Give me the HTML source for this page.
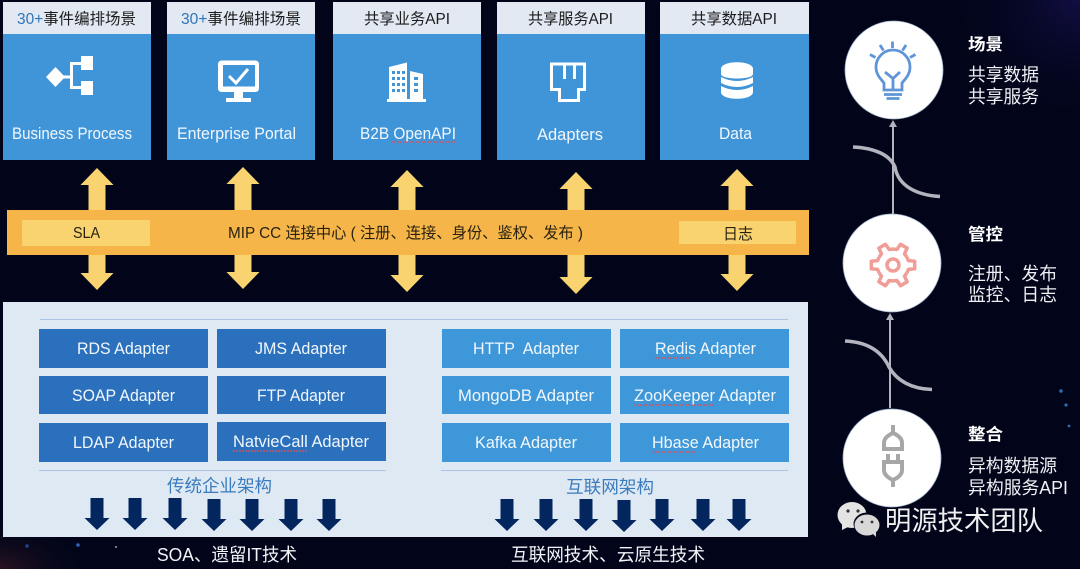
<!DOCTYPE html>
<html><head><meta charset="utf-8"><style>
html,body{margin:0;padding:0;background:#02051a}
svg{display:block}
text{font-family:"Liberation Sans","Noto Sans CJK SC",sans-serif}
</style></head><body>
<svg width="1080" height="569" viewBox="0 0 1080 569" xmlns="http://www.w3.org/2000/svg">
<defs>
<radialGradient id="p" cx="1" cy="0" r="0.5"><stop offset="0" stop-color="#120e44"/><stop offset="1" stop-color="#02051a" stop-opacity="0"/></radialGradient>
<radialGradient id="r" cx="0" cy="1" r="0.3"><stop offset="0" stop-color="#2a1420"/><stop offset="1" stop-color="#02051a" stop-opacity="0"/></radialGradient>
<path id="da" d="M0 0L16.500 17H8.500V105H16.500L0 122L-16.500 105H-8.500V17H-16.500Z" fill="#f9d36f"/>
<path id="dn" d="M-6.500 0H6.500V20H12.500L0 32L-12.500 20H-6.500Z" fill="#03265f"/>
<path id="gt" d="M13.860 -8L15.380 -4.410L21.670 -3.820V3.820L15.380 4.410L13.860 8" fill="none" stroke="#ef9d96" stroke-width="3.500" stroke-linejoin="round"/>
</defs>
<rect width="1080" height="569" fill="#02051a"/>
<rect x="810" width="270" height="250" fill="url(#p)"/>
<rect y="400" width="300" height="169" fill="url(#r)"/>
<g fill="#2c6cb0"><circle cx="1061" cy="391" r="1.800"/><circle cx="1066" cy="405" r="1.600"/><circle cx="1069" cy="426" r="1.400"/></g>
<circle cx="27" cy="546" r="1.800" fill="#24418c"/><circle cx="78" cy="545" r="1.800" fill="#2e65b8"/><circle cx="116" cy="547" r="1" fill="#7fa0d0"/>

<!-- cards -->
<g fill="#4095d9">
<rect x="3" y="34" width="148" height="126"/><rect x="167" y="34" width="148" height="126"/><rect x="333" y="34" width="148" height="126"/><rect x="497" y="34" width="148" height="126"/><rect x="660" y="34" width="149" height="126"/>
</g>
<g fill="#e2e9f3">
<rect x="3" y="2" width="148" height="32"/><rect x="167" y="2" width="148" height="32"/><rect x="333" y="2" width="148" height="32"/><rect x="497" y="2" width="148" height="32"/><rect x="660" y="2" width="149" height="32"/>
</g>
<g font-size="15.500" fill="#1c1c1c">
<text x="17" y="24" textLength="119" lengthAdjust="spacingAndGlyphs"><tspan fill="#2f75b8">30+</tspan>事件编排场景</text>
<text x="181" y="24" textLength="120" lengthAdjust="spacingAndGlyphs"><tspan fill="#2f75b8">30+</tspan>事件编排场景</text>
<text x="364" y="24" textLength="86" lengthAdjust="spacingAndGlyphs">共享业务API</text>
<text x="528" y="24" textLength="85" lengthAdjust="spacingAndGlyphs">共享服务API</text>
<text x="691" y="24" textLength="86" lengthAdjust="spacingAndGlyphs">共享数据API</text>
</g>
<g font-size="16.500" fill="#f2f7fc">
<text x="12" y="139" textLength="120" lengthAdjust="spacingAndGlyphs">Business Process</text>
<text x="177" y="139" textLength="119" lengthAdjust="spacingAndGlyphs">Enterprise Portal</text>
<text x="360" y="139" textLength="96" lengthAdjust="spacingAndGlyphs">B2B OpenAPI</text>
<text x="537" y="140" textLength="66" lengthAdjust="spacingAndGlyphs">Adapters</text>
<text x="719" y="139" textLength="33" lengthAdjust="spacingAndGlyphs">Data</text>
</g>
<!-- card icons -->
<g fill="#fff">
<path d="M46 77L55.500 67L65 77L55.500 87Z"/>
<rect x="81" y="56" width="12" height="14"/><rect x="81" y="81" width="12" height="14"/>
<path d="M62 75.500H70V62H82V65H73V86H82V89H70V78.500H62Z"/>
<path fill-rule="evenodd" d="M222 60.500H255Q259 60.500 259 64.500V88Q259 92 255 92H243V98H251V102H226V98H234V92H222Q218 92 218 88V64.500Q218 60.500 222 60.500ZM223 65V86.500H255V65Z"/>
</g>
<path d="M229 76L236 83L248 69" fill="none" stroke="#fff" stroke-width="3"/>
<g fill="#fff">
<path fill-rule="evenodd" d="M387 102V99H389V67L407 62.500V99H410V71L423 74V99H426V102ZM392 71v3h3v-3zM397 71v3h3v-3zM402 71v3h3v-3zM392 77v3h3v-3zM397 77v3h3v-3zM402 77v3h3v-3zM392 83v3h3v-3zM397 83v3h3v-3zM402 83v3h3v-3zM392 89v3h3v-3zM397 89v3h3v-3zM402 89v3h3v-3zM414 77v3h4v-3zM414 83v3h4v-3zM414 89v3h4v-3z"/>
<path fill-rule="evenodd" d="M550 62.500H586V91H580V102H558V91H550ZM553 65.500V88H561V99H577V88H583V65.500H576V79H573V65.500H566V79H563V65.500Z"/>
<path d="M721 69C721 60 753 60 753 69V74C753 80 721 80 721 74Z"/>
<path d="M721 77Q737 85 753 77V83Q737 91 721 83Z"/>
<path d="M721 86Q737 94 753 86V92C753 101 721 101 721 92Z"/>
</g>
<!-- double arrows -->
<use href="#da" x="97" y="168"/><use href="#da" x="243" y="167"/><use href="#da" x="407" y="170"/><use href="#da" x="576" y="172"/><use href="#da" x="737" y="169"/>
<!-- band -->
<rect x="7" y="210" width="802" height="45" fill="#f5b548"/>
<rect x="22" y="220" width="128" height="26" fill="#f9d36f"/>
<rect x="679" y="221" width="117" height="23" fill="#f9d36f"/>
<g font-size="15.500" fill="#2a2210">
<text x="73" y="238" textLength="27" lengthAdjust="spacingAndGlyphs">SLA</text>
<text x="228" y="238" textLength="355" lengthAdjust="spacingAndGlyphs">MIP CC 连接中心 ( 注册、连接、身份、鉴权、发布 )</text>
<text x="723" y="239" textLength="30" lengthAdjust="spacingAndGlyphs">日志</text>
</g>
<!-- panel -->
<rect x="3" y="302" width="805" height="235" fill="#dfe9f4"/>
<path d="M40 319.500H788M39 470.500H386M441 470.500H788" stroke="#a9c5e2" stroke-width="1" fill="none"/>
<g fill="#2a70bd">
<rect x="39" y="329" width="169" height="39"/><rect x="217" y="329" width="169" height="39"/>
<rect x="39" y="376" width="169" height="38"/><rect x="217" y="376" width="169" height="38"/>
<rect x="39" y="423" width="169" height="39"/><rect x="217" y="422" width="169" height="39"/>
</g>
<g fill="#3d97d8">
<rect x="442" y="329" width="169" height="39"/><rect x="620" y="329" width="169" height="39"/>
<rect x="442" y="376" width="169" height="38"/><rect x="620" y="376" width="169" height="38"/>
<rect x="442" y="423" width="169" height="39"/><rect x="620" y="423" width="169" height="39"/>
</g>
<g font-size="16.500" fill="#f2f7fc">
<text x="77" y="354" textLength="93" lengthAdjust="spacingAndGlyphs">RDS Adapter</text>
<text x="255" y="354" textLength="92" lengthAdjust="spacingAndGlyphs">JMS Adapter</text>
<text x="72" y="401" textLength="103" lengthAdjust="spacingAndGlyphs">SOAP Adapter</text>
<text x="257" y="401" textLength="88" lengthAdjust="spacingAndGlyphs">FTP Adapter</text>
<text x="73" y="448" textLength="101" lengthAdjust="spacingAndGlyphs">LDAP Adapter</text>
<text x="233" y="447" textLength="136" lengthAdjust="spacingAndGlyphs">NatvieCall Adapter</text>
<text x="473" y="354" textLength="106" lengthAdjust="spacingAndGlyphs" xml:space="preserve">HTTP  Adapter</text>
<text x="655" y="354" textLength="101" lengthAdjust="spacingAndGlyphs">Redis Adapter</text>
<text x="458" y="401" textLength="136" lengthAdjust="spacingAndGlyphs">MongoDB Adapter</text>
<text x="634" y="401" textLength="142" lengthAdjust="spacingAndGlyphs">ZooKeeper Adapter</text>
<text x="475" y="448" textLength="102" lengthAdjust="spacingAndGlyphs">Kafka Adapter</text>
<text x="652" y="448" textLength="107" lengthAdjust="spacingAndGlyphs">Hbase Adapter</text>
</g>
<!-- squiggles -->
<g stroke="#e0505a" stroke-width="1.200" stroke-dasharray="2 1" fill="none">
<path d="M391 142H456M233 451H307M655 358H692M634 405H715M652 452H695"/>
</g>
<text x="167" y="492" font-size="17.500" fill="#3a7cbd" textLength="105" lengthAdjust="spacingAndGlyphs">传统企业架构</text>
<text x="566" y="493" font-size="17.500" fill="#3a7cbd" textLength="88" lengthAdjust="spacingAndGlyphs">互联网架构</text>
<g>
<use href="#dn" x="97" y="498"/><use href="#dn" x="135" y="498"/><use href="#dn" x="175" y="498"/><use href="#dn" x="214" y="499"/><use href="#dn" x="252" y="499"/><use href="#dn" x="291" y="499"/><use href="#dn" x="329" y="499"/>
<use href="#dn" x="507" y="499"/><use href="#dn" x="546" y="499"/><use href="#dn" x="586" y="499"/><use href="#dn" x="624" y="500"/><use href="#dn" x="662" y="499"/><use href="#dn" x="703" y="499"/><use href="#dn" x="739" y="499"/>
</g>
<text x="157" y="561" font-size="18" fill="#f2f4f8" textLength="140" lengthAdjust="spacingAndGlyphs">SOA、遗留IT技术</text>
<text x="511" y="561" font-size="18" fill="#f2f4f8" textLength="194" lengthAdjust="spacingAndGlyphs">互联网技术、云原生技术</text>

<!-- right flow -->
<path d="M893 214V126M890 408V319" stroke="#b3b4bd" stroke-width="2" fill="none"/>
<path d="M893 120L897 127H889ZM890 313L894 320H886Z" fill="#b3b4bd"/>
<path d="M853 147C875 148 890 155 895 167C898 185 915 195 940 196.500M845 341C868 342 882 352 889 367C897 381 912 389 932 389.500" stroke="#b3b4bd" stroke-width="3.500" fill="none"/>
<g fill="#fff" stroke="#9fb4cc" stroke-width="0.800"><circle cx="894" cy="70" r="49"/><circle cx="892" cy="263" r="49"/><circle cx="892" cy="458" r="49"/></g>
<!-- bulb -->
<g fill="none" stroke="#5f95d8" stroke-width="2.800">
<path d="M884 90V83C881 79 876 75 876 67A17 17 0 0 1 910 67C910 75 905 79 902 83V90Z"/>
<path d="M885 72L893 78.500L900 72M893 78.500V90M884 94.500H902M886.500 98.500H899.500"/>
<path d="M892.500 41.500V48M880 45L883.500 50.500M906 45L902.500 50.500M870 54.500L875.500 57.500M915.500 54.500L910 57.500"/>
</g>
<!-- gear -->
<g>
<use href="#gt" transform="translate(893,265)"/>
<use href="#gt" transform="translate(893,265) rotate(60)"/>
<use href="#gt" transform="translate(893,265) rotate(120)"/>
<use href="#gt" transform="translate(893,265) rotate(180)"/>
<use href="#gt" transform="translate(893,265) rotate(240)"/>
<use href="#gt" transform="translate(893,265) rotate(300)"/>
<circle cx="893" cy="265" r="6" fill="none" stroke="#ef9d96" stroke-width="3.500"/>
</g>
<!-- plug -->
<g fill="none" stroke="#a7a7a7" stroke-width="4">
<path d="M884 449V443Q884 437 893 433Q902 437 902 443V449ZM893 425V433"/>
<path d="M884 462H902V470Q902 476 893 480Q884 476 884 470ZM893 480V487M888 454V462M898 454V462"/>
</g>
<g fill="#fff">
<text x="968" y="50" font-size="16.500" font-weight="bold" textLength="35" lengthAdjust="spacingAndGlyphs">场景</text>
<text x="968" y="240" font-size="16.500" font-weight="bold" textLength="35" lengthAdjust="spacingAndGlyphs">管控</text>
<text x="968" y="440" font-size="16.500" font-weight="bold" textLength="35" lengthAdjust="spacingAndGlyphs">整合</text>
</g>
<g fill="#eef0f4" font-size="18">
<text x="968" y="81" textLength="71" lengthAdjust="spacingAndGlyphs">共享数据</text>
<text x="968" y="103" textLength="71" lengthAdjust="spacingAndGlyphs">共享服务</text>
<text x="968" y="280" textLength="89" lengthAdjust="spacingAndGlyphs">注册、发布</text>
<text x="968" y="301" textLength="89" lengthAdjust="spacingAndGlyphs">监控、日志</text>
<text x="968" y="472" textLength="89" lengthAdjust="spacingAndGlyphs">异构数据源</text>
<text x="968" y="494" textLength="100" lengthAdjust="spacingAndGlyphs">异构服务API</text>
</g>
<!-- watermark -->
<ellipse cx="852" cy="515" rx="14.500" ry="13" fill="#e4e4e4"/>
<path d="M842 524L842 530L850 526Z" fill="#e4e4e4"/>
<ellipse cx="867" cy="524" rx="13.500" ry="11.500" fill="#02051a"/>
<ellipse cx="867" cy="525" rx="12.500" ry="10.500" fill="#d8d8d8"/>
<path d="M872 533L876 537L876 531Z" fill="#d8d8d8"/>
<g fill="#333"><circle cx="848" cy="511" r="1.600"/><circle cx="858" cy="511" r="1.600"/><circle cx="862" cy="522" r="1.400"/><circle cx="872" cy="522" r="1.400"/></g>
<text x="885" y="530" font-size="26.500" fill="#f0f0f0" textLength="158" lengthAdjust="spacingAndGlyphs">明源技术团队</text>
</svg>
</body></html>
